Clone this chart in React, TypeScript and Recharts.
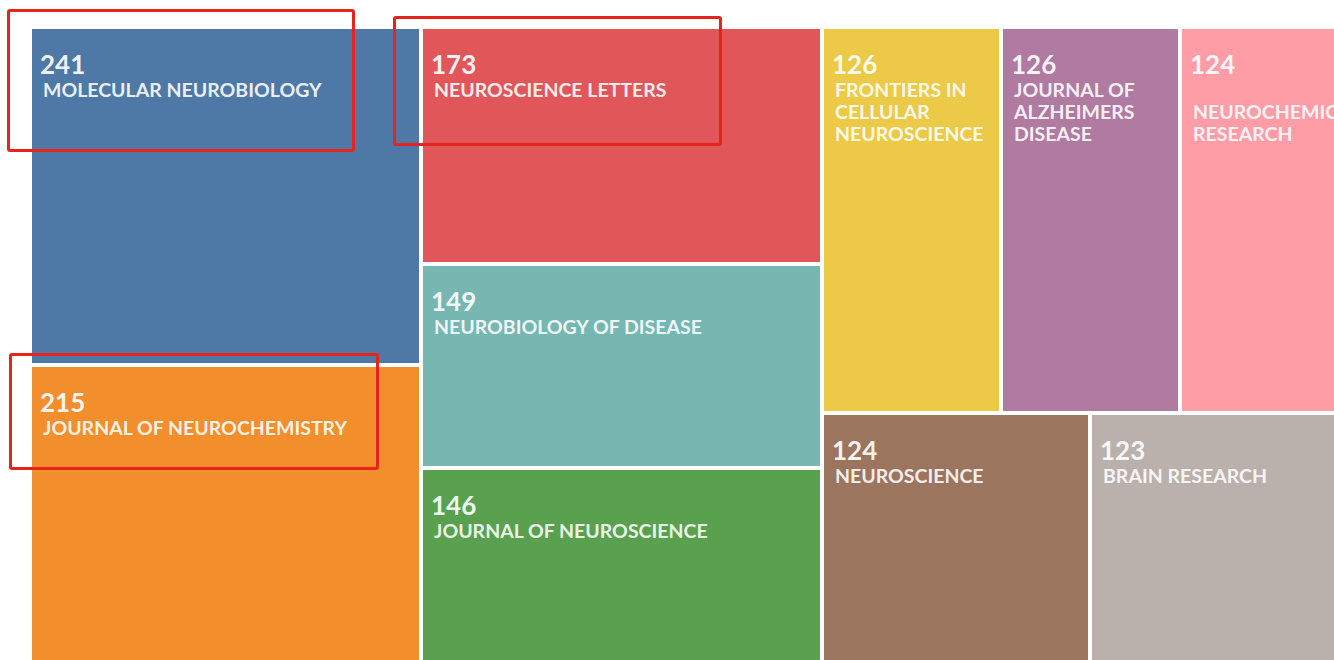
import { Treemap } from 'recharts';

// journals and publication counts
const journals = [
  'MOLECULAR NEUROBIOLOGY',
  'JOURNAL OF NEUROCHEMISTRY',
  'NEUROSCIENCE LETTERS',
  'NEUROBIOLOGY OF DISEASE',
  'JOURNAL OF NEUROSCIENCE',
  'FRONTIERS IN CELLULAR NEUROSCIENCE',
  'JOURNAL OF ALZHEIMERS DISEASE',
  'NEUROCHEMICAL RESEARCH',
  'NEUROSCIENCE',
  'BRAIN RESEARCH',
];
const counts = [241, 215, 173, 149, 146, 126, 126, 124, 124, 123];

// tableau 10
const COLORS = ['#4e79a7', '#f28e2b', '#e15759', '#76b7b2', '#59a14f', '#edc948', '#b07aa1', '#ff9da7', '#9c755f', '#bab0ac'];

const data = journals.map((name, i) => ({ name, size: counts[i] }));

const LABEL_FONT = '700 19.5px Lato';
const NUM_FONT = '700 26px Lato';

let ctx: CanvasRenderingContext2D | null = null;
function wrapLines(text: string, maxW: number) {
  if (!ctx) ctx = document.createElement('canvas').getContext('2d');
  ctx!.font = LABEL_FONT;
  const lines: string[] = [];
  let line = '';
  for (const w of text.split(' ')) {
    const test = line ? line + ' ' + w : w;
    if (ctx!.measureText(test).width > maxW) {
      lines.push(line);
      line = w;
    } else line = test;
  }
  lines.push(line);
  return lines;
}

function Cell(props: any) {
  const { x, y, width, height, depth, index, name, value } = props;
  if (depth !== 1) return <g />;
  const lines = wrapLines(name, width - 30);
  return (
    <g>
      <rect x={x + 2} y={y + 2} width={width - 4} height={height - 4} fill={COLORS[index % COLORS.length]} />
      <text x={x + 10} y={y + 47} fill="#fff" fillOpacity={0.93} style={{ font: NUM_FONT }}>
        {value}
      </text>
      {lines.map((l, i) => (
        <text key={i} x={x + 13} y={y + 70 + i * 22} fill="#fff" fillOpacity={0.9} style={{ font: LABEL_FONT }}>
          {l}
        </text>
      ))}
    </g>
  );
}

const boxes = [
  { left: 7, top: 9, width: 348, height: 143 },
  { left: 393, top: 16, width: 329, height: 130 },
  { left: 9, top: 353, width: 370, height: 117 },
];

export default function App() {
  return (
    <div style={{ position: 'fixed', left: 0, top: 0, width: 1334, height: 660, overflow: 'hidden', background: '#fff' }}>
      <div style={{ position: 'absolute', left: 30, top: 27 }}>
        <Treemap
          width={1327}
          height={640}
          data={data}
          dataKey="size"
          nameKey="name"
          content={<Cell />}
          isAnimationActive={false}
        />
      </div>
      {boxes.map((b, i) => (
        <div
          key={i}
          style={{
            position: 'absolute',
            left: b.left,
            top: b.top,
            width: b.width,
            height: b.height,
            boxSizing: 'border-box',
            border: '3px solid #e8231e',
            borderRadius: 3,
          }}
        />
      ))}
    </div>
  );
}
